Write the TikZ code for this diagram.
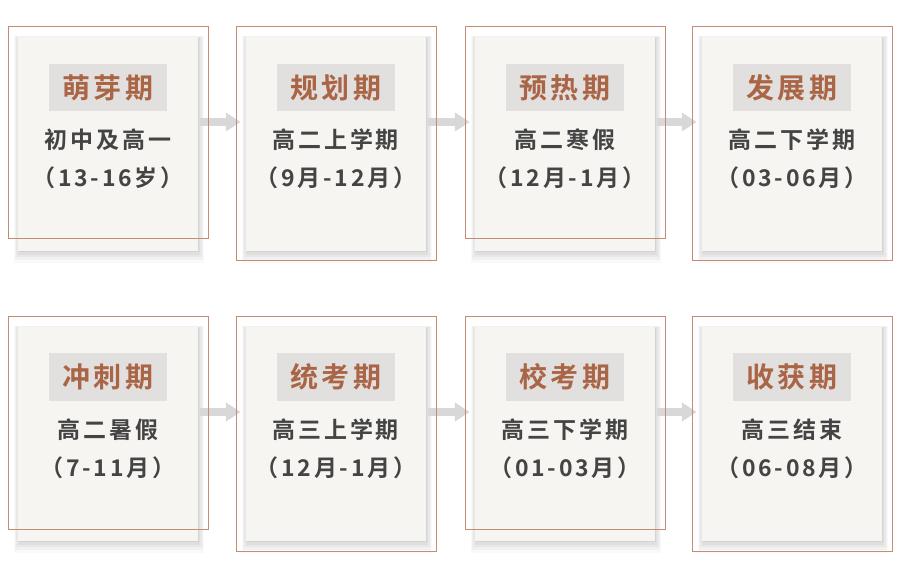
\documentclass[tikz,border=0pt]{standalone}
\usepackage{fontspec}
\usepackage{tikz}
\usetikzlibrary{arrows.meta,shadows,positioning}
\usepackage{xcolor}
\newfontfamily\cjk[LetterSpace=12,BoldFont={Noto Sans CJK SC Bold}]{Noto Sans CJK SC}
\definecolor{cardfill}{RGB}{246,245,242}
\definecolor{titlegrey}{RGB}{226,224,222}
\definecolor{titlebrown}{RGB}{170,101,70}
\definecolor{framebrown}{RGB}{196,140,115}
\definecolor{textgrey}{RGB}{68,68,68}
\definecolor{arrowgrey}{RGB}{216,216,216}
\tikzstyle{flow} = [line width=8pt,-{Triangle[width=18pt,length=15pt]},color=arrowgrey]

\begin{document}
\begin{tikzpicture}[
    x=1pt, y=-1pt,
    card/.style={rectangle, fill=cardfill, minimum width=180pt, minimum height=214pt, inner sep=0pt,
        drop shadow={shadow xshift=1pt, shadow yshift=-5pt, opacity=.025, fill=black, shadow scale=1.06},
        drop shadow={shadow xshift=1pt, shadow yshift=-4pt, opacity=.03, fill=black, shadow scale=1.045},
        drop shadow={shadow xshift=1pt, shadow yshift=-3pt, opacity=.035, fill=black, shadow scale=1.03},
        drop shadow={shadow xshift=1pt, shadow yshift=-2pt, opacity=.04, fill=black, shadow scale=1.015},
        drop shadow={shadow xshift=1pt, shadow yshift=-1pt, opacity=.05, fill=black}},
    cardframe/.style={rectangle, draw=framebrown, line width=1pt, minimum width=200pt, inner sep=0pt},
    stage/.style={rectangle, fill=titlegrey, text=titlebrown, minimum width=118pt, minimum height=47pt, inner sep=0pt, font=\cjk\bfseries\fontsize{28}{30}\selectfont},
    period/.style={align=center, text=textgrey, inner sep=0pt, font=\cjk\bfseries\fontsize{23}{38}\selectfont}
]
\useasboundingbox (0,0) rectangle (900,569);

% First row
\node (b1) [card] at (108,144) {};
\node (b2) [card] at (336,144) {};
\node (b3) [card] at (565,144) {};
\node (b4) [card] at (792,144) {};

% Second row
\node (b5) [card] at (108,434) {};
\node (b6) [card] at (336,434) {};
\node (b7) [card] at (565,434) {};
\node (b8) [card] at (792,434) {};

% Arrows
\draw[flow] ([xshift=2pt, yshift=22pt]b1.east) -- ([xshift=-5pt, yshift=22pt]b2.west);
\draw[flow] ([xshift=2pt, yshift=22pt]b2.east) -- ([xshift=-5pt, yshift=22pt]b3.west);
\draw[flow] ([xshift=2pt, yshift=22pt]b3.east) -- ([xshift=-5pt, yshift=22pt]b4.west);
\draw[flow] ([xshift=2pt, yshift=22pt]b5.east) -- ([xshift=-5pt, yshift=22pt]b6.west);
\draw[flow] ([xshift=2pt, yshift=22pt]b6.east) -- ([xshift=-5pt, yshift=22pt]b7.west);
\draw[flow] ([xshift=2pt, yshift=22pt]b7.east) -- ([xshift=-5pt, yshift=22pt]b8.west);

% Frames
\node (f1) [cardframe, minimum height=212pt] at ([yshift=11pt]b1.center) {};
\node (f2) [cardframe, minimum height=234pt] at (b2.center) {};
\node (f3) [cardframe, minimum height=212pt] at ([yshift=11pt]b3.center) {};
\node (f4) [cardframe, minimum height=234pt] at (b4.center) {};
\node (f5) [cardframe, minimum height=212pt] at ([yshift=11pt]b5.center) {};
\node (f6) [cardframe, minimum height=234pt] at (b6.center) {};
\node (f7) [cardframe, minimum height=212pt] at ([yshift=11pt]b7.center) {};
\node (f8) [cardframe, minimum height=234pt] at (b8.center) {};

% Titles
\node (t1) [stage] at ([yshift=56.5pt]b1.center) {萌芽期};
\node (t2) [stage] at ([yshift=56.5pt]b2.center) {规划期};
\node (t3) [stage] at ([yshift=56.5pt]b3.center) {预热期};
\node (t4) [stage] at ([yshift=56.5pt]b4.center) {发展期};
\node (t5) [stage] at ([yshift=57pt]b5.center) {冲刺期};
\node (t6) [stage] at ([yshift=57pt]b6.center) {统考期};
\node (t7) [stage] at ([yshift=57pt]b7.center) {校考期};
\node (t8) [stage] at ([yshift=57pt]b8.center) {收获期};

% Periods
\node (p1) [period] at ([yshift=-15pt]b1.center) {初中及高一\\（13-16岁）};
\node (p2) [period] at ([yshift=-15pt]b2.center) {高二上学期\\（9月-12月）};
\node (p3) [period] at ([yshift=-15pt]b3.center) {高二寒假\\（12月-1月）};
\node (p4) [period] at ([yshift=-15pt]b4.center) {高二下学期\\（03-06月）};
\node (p5) [period] at ([yshift=-15pt]b5.center) {高二暑假\\（7-11月）};
\node (p6) [period] at ([yshift=-15pt]b6.center) {高三上学期\\（12月-1月）};
\node (p7) [period] at ([yshift=-15pt]b7.center) {高三下学期\\（01-03月）};
\node (p8) [period] at ([yshift=-15pt]b8.center) {高三结束\\（06-08月）};
\end{tikzpicture}
\end{document}
